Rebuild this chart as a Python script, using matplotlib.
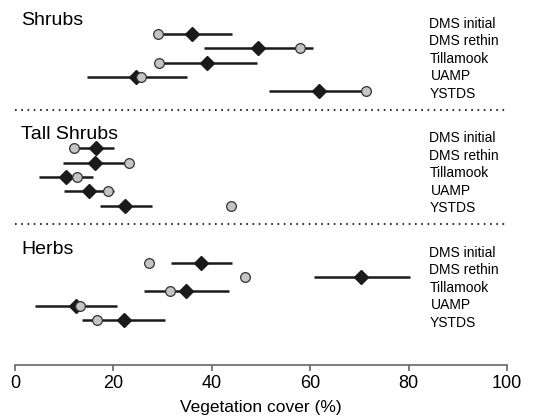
import numpy as np
import matplotlib
matplotlib.use("Agg")
import matplotlib.pyplot as plt

plt.rcParams['font.family'] = ['Liberation Sans', 'DejaVu Sans']

# data (vegetation cover, %)
sections = ['Shrubs', 'Tall Shrubs', 'Herbs']
sites = ['DMS initial', 'DMS rethin', 'Tillamook', 'UAMP', 'YSTDS']

# observed (grey circles)
observed = {
    'Shrubs':      [29.0, 57.9, 29.3, 25.6, 71.3],
    'Tall Shrubs': [12.0, 23.2, 12.7, 19.0, 43.9],
    'Herbs':       [27.3, 46.7, 31.5, 13.2, 16.7],
}
# predicted mean (black diamonds)
predicted = {
    'Shrubs':      [36.0, 49.4, 39.0, 24.6, 61.8],
    'Tall Shrubs': [16.4, 16.3, 10.4, 15.0, 22.4],
    'Herbs':       [37.9, 70.4, 34.7, 12.4, 22.1],
}
# interval bounds
lower = {
    'Shrubs':      [28.5, 38.4, 29.0, 14.7, 51.7],
    'Tall Shrubs': [12.5, 9.7, 4.9, 9.9, 17.3],
    'Herbs':       [31.7, 60.8, 26.2, 4.1, 13.7],
}
upper = {
    'Shrubs':      [44.1, 60.6, 49.2, 34.9, 71.0],
    'Tall Shrubs': [20.2, 22.8, 15.8, 20.2, 27.8],
    'Herbs':       [44.2, 80.2, 43.4, 20.8, 30.4],
}

fig = plt.figure(figsize=(5.43, 4.19), dpi=100)
ax = fig.add_axes([15 / 543, 1 - 365 / 419, 492 / 543, 365 / 419])

step = 8  # rows per section block
for k, sec in enumerate(sections):
    y = k * step + np.arange(len(sites))
    ax.hlines(y, lower[sec], upper[sec], color='#1a1a1a', lw=1.8, zorder=2)
    ax.plot(predicted[sec], y, 'D', ms=7, color='#1a1a1a', mec='#1a1a1a', zorder=3)
    ax.plot(observed[sec], y, 'o', ms=7, mfc='#c4c4c4', mec='#333333', mew=0.9, zorder=4)

    ax.text(1.2, k * step - 0.95, sec, fontsize=14, va='center', ha='left')
    for i, s in enumerate(sites):
        dx = 0.4 if s == 'UAMP' else 0
        ax.text(84.2 + dx, k * step - 0.7 + 1.22 * i, s, fontsize=10,
                va='center', ha='left')
    if k > 0:
        ax.hlines(k * step - 2.7, 0, 100, color='#333333', lw=1.5,
                  linestyles=(0, (0.8, 2.2)))

ax.set_xlim(0, 100)
ax.set_ylim(23.15, -2.38)
ax.set_xticks(np.arange(0, 101, 20))
ax.set_yticks([])
for side in ['top', 'right', 'left']:
    ax.spines[side].set_visible(False)
ax.spines['bottom'].set_color('#666666')
ax.spines['bottom'].set_linewidth(1.2)
ax.tick_params(axis='x', length=4, width=1.2, color='#666666', labelsize=13, pad=3)
ax.set_xlabel('Vegetation cover (%)', fontsize=12.5, labelpad=6)

fig.savefig('out.png', dpi=100)
